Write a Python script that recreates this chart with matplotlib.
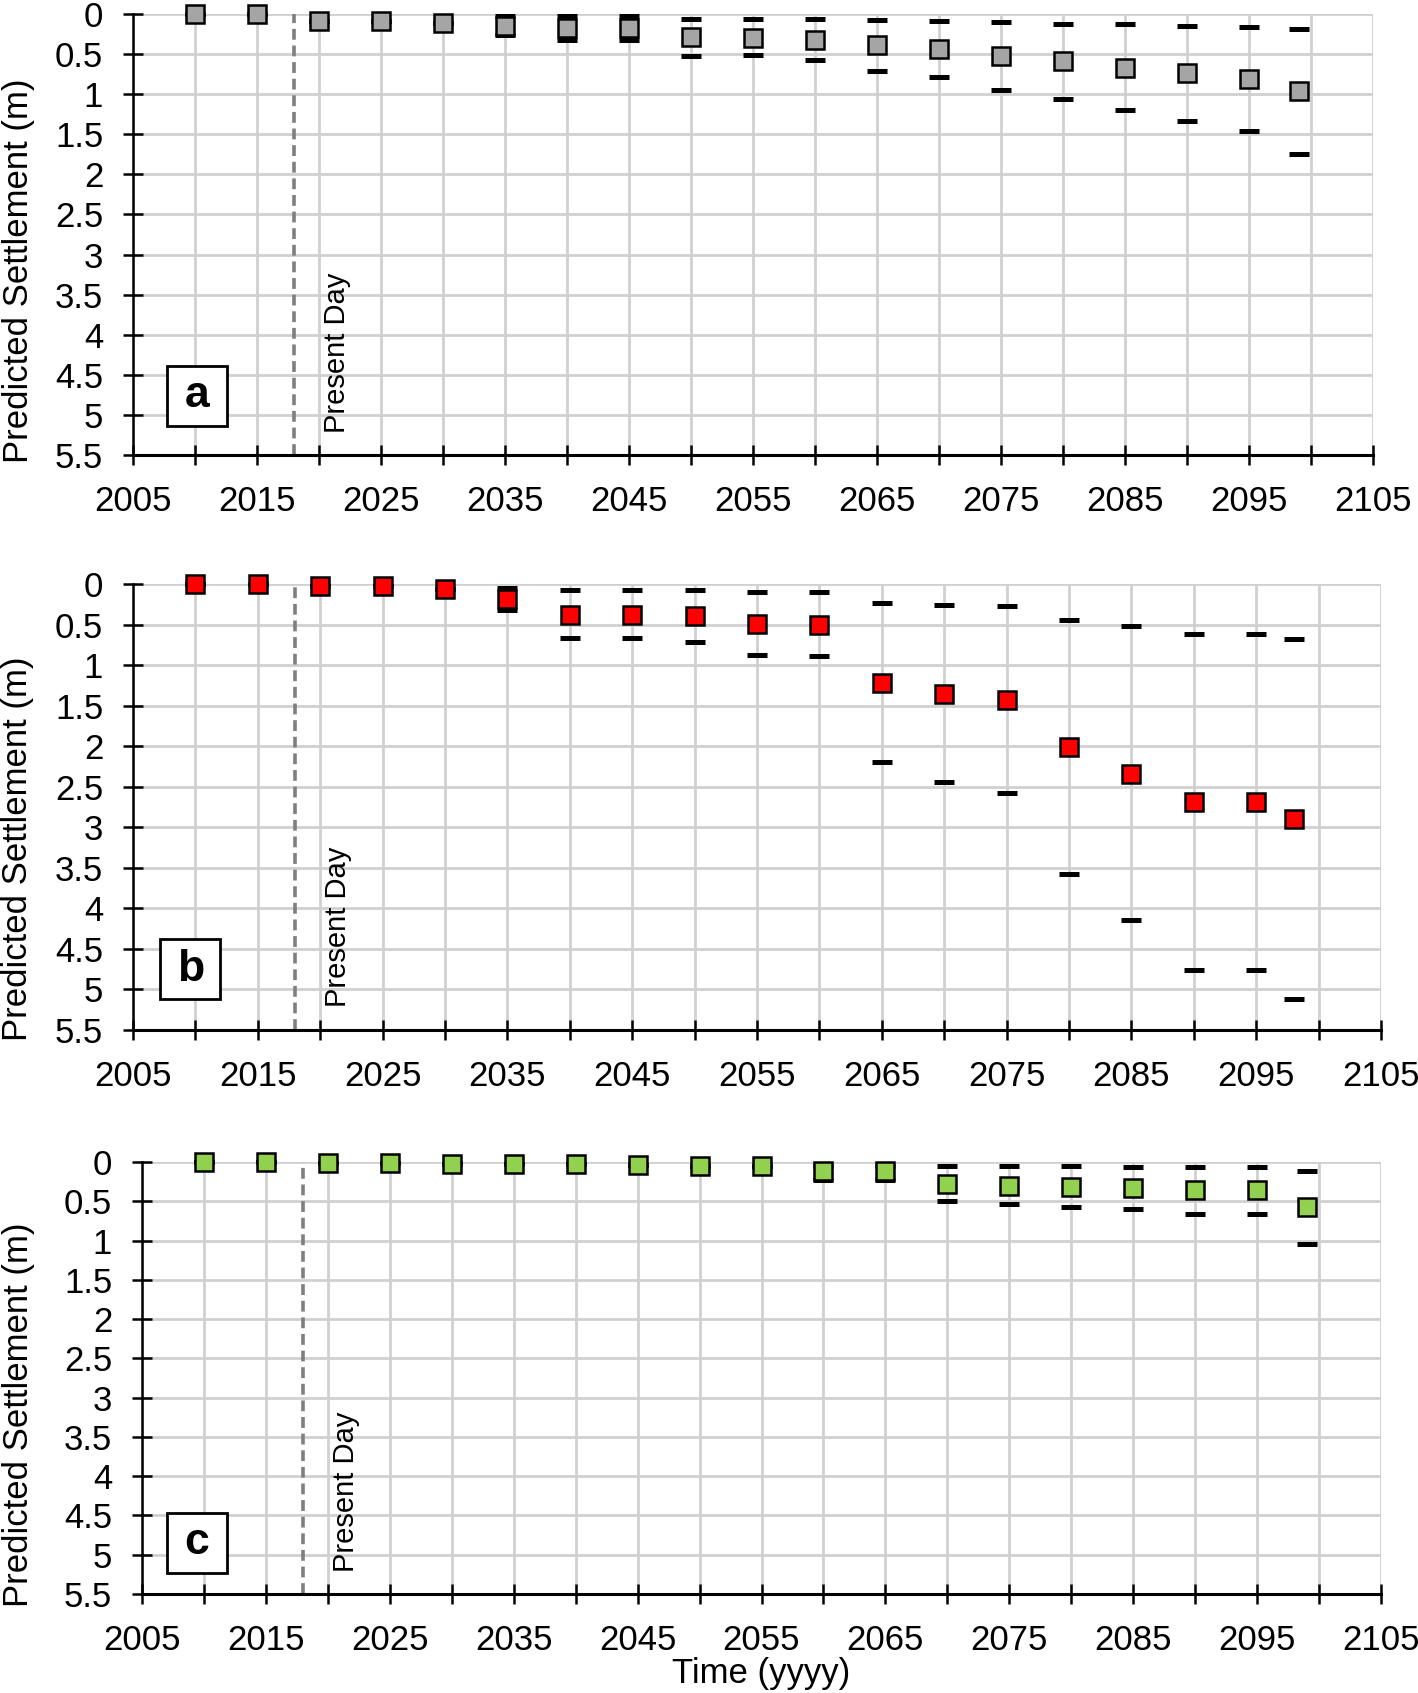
import matplotlib
matplotlib.use("Agg")
import matplotlib.pyplot as plt
import numpy as np

plt.rcParams['font.family'] = ['Liberation Sans', 'DejaVu Sans']

# ---------------- data ----------------
years_a = [2010, 2015, 2020, 2025, 2030, 2035, 2040, 2045, 2050, 2055, 2060, 2065, 2070, 2075, 2080, 2085, 2090, 2095, 2099]
mid_a = [0, 0, 0.09, 0.09, 0.11, 0.15, 0.18, 0.18, 0.29, 0.295, 0.32, 0.39, 0.44, 0.52, 0.59, 0.67, 0.74, 0.81, 0.96]
low_a = [0, 0, 0.09, 0.09, 0.11, 0.03, 0.03, 0.03, 0.06, 0.06, 0.06, 0.08, 0.09, 0.10, 0.12, 0.13, 0.15, 0.16, 0.19]
high_a = [0, 0, 0.09, 0.09, 0.11, 0.26, 0.32, 0.32, 0.52, 0.515, 0.57, 0.71, 0.78, 0.95, 1.06, 1.20, 1.33, 1.46, 1.74]

years_b = [2010, 2015, 2020, 2025, 2030, 2035, 2040, 2045, 2050, 2055, 2060, 2065, 2070, 2075, 2080, 2085, 2090, 2095, 2098]
mid_b = [0, 0, 0.03, 0.03, 0.06, 0.185, 0.38, 0.38, 0.40, 0.49, 0.50, 1.215, 1.355, 1.425, 2.01, 2.34, 2.69, 2.69, 2.90]
low_b = [0, 0, 0.03, 0.03, 0.06, 0.05, 0.08, 0.08, 0.08, 0.10, 0.10, 0.24, 0.26, 0.275, 0.44, 0.52, 0.62, 0.62, 0.68]
high_b = [0, 0, 0.03, 0.03, 0.06, 0.32, 0.67, 0.67, 0.71, 0.88, 0.89, 2.19, 2.44, 2.575, 3.58, 4.14, 4.76, 4.76, 5.12]

years_c = [2010, 2015, 2020, 2025, 2030, 2035, 2040, 2045, 2050, 2055, 2060, 2065, 2070, 2075, 2080, 2085, 2090, 2095, 2099]
mid_c = [0, 0, 0.01, 0.01, 0.03, 0.03, 0.03, 0.04, 0.055, 0.05, 0.11, 0.11, 0.275, 0.30, 0.32, 0.33, 0.36, 0.36, 0.575]
low_c = [0, 0, 0.01, 0.01, 0.03, 0.03, 0.03, 0.04, 0.055, 0.05, 0.05, 0.05, 0.05, 0.05, 0.055, 0.06, 0.07, 0.07, 0.11]
high_c = [0, 0, 0.01, 0.01, 0.03, 0.03, 0.03, 0.04, 0.055, 0.05, 0.235, 0.235, 0.50, 0.535, 0.57, 0.60, 0.66, 0.66, 1.04]

present_day = 2018
x_ticks = [2005, 2010, 2015, 2020, 2025, 2030, 2035, 2040, 2045, 2050, 2055, 2060, 2065, 2070,
           2075, 2080, 2085, 2090, 2095, 2100, 2105]
x_tick_labels = ['2005', '', '2015', '', '2025', '', '2035', '', '2045', '', '2055', '', '2065', '',
                 '2075', '', '2085', '', '2095', '', '2105']
y_ticks = [0, 0.5, 1, 1.5, 2, 2.5, 3, 3.5, 4, 4.5, 5, 5.5]
y_tick_labels = ['0', '0.5', '1', '1.5', '2', '2.5', '3', '3.5', '4', '4.5', '5', '5.5']

panels = [
    dict(label='a', years=years_a, mid=mid_a, low=low_a, high=high_a, color='#A5A5A5',
         rect=[133/1418, 1-455/1693, 1240/1418, 441/1693], lab_xy=(2010.2, 4.76),
         ylab=(-0.079, 0.417)),
    dict(label='b', years=years_b, mid=mid_b, low=low_b, high=high_b, color='#FF0000',
         rect=[133/1418, 1-1030/1693, 1248/1418, 446/1693], lab_xy=(2009.6, 4.75),
         ylab=(-0.079, 0.406)),
    dict(label='c', years=years_c, mid=mid_c, low=low_c, high=high_c, color='#92D050',
         rect=[142/1418, 1-1594/1693, 1239/1418, 432/1693], lab_xy=(2009.4, 4.85),
         ylab=(-0.086, 0.414)),
]

fig = plt.figure(figsize=(14.18, 16.93), dpi=100)

grid_col = '#D0D0D0'
for p in panels:
    ax = fig.add_axes(p['rect'])
    ax.set_xlim(2005, 2105)
    ax.set_ylim(5.5, 0)
    ax.set_xticks(x_ticks)
    ax.set_xticklabels(x_tick_labels)
    ax.set_yticks(y_ticks)
    ax.set_yticklabels(y_tick_labels)
    ax.grid(True, color=grid_col, lw=2.0, zorder=0)
    ax.set_axisbelow(True)
    for s in ['top', 'right']:
        ax.spines[s].set_visible(False)
    ax.spines['left'].set_linewidth(1.8)
    ax.spines['bottom'].set_linewidth(2.2)
    ax.tick_params(axis='x', direction='inout', length=15, width=1.8, labelsize=25, pad=14)
    ax.tick_params(axis='y', direction='inout', length=15, width=1.8, labelsize=25, pad=14)

    # present day line
    ax.axvline(present_day, color='#7F7F7F', lw=2.6, ls=(0, (3, 1.6)), zorder=2)
    ax.text(present_day + 2.3, 5.22, 'Present Day', rotation=90, fontsize=21,
            ha='left', va='bottom', zorder=3)

    # low / high dashes
    ax.plot(p['years'], p['low'], ls='none', marker='_', ms=14, mew=3.6, color='black',
            clip_on=False, zorder=4)
    ax.plot(p['years'], p['high'], ls='none', marker='_', ms=14, mew=3.6, color='black',
            clip_on=False, zorder=4)
    # main points
    ax.plot(p['years'], p['mid'], ls='none', marker='s', ms=12.5, mew=1.8, mfc=p['color'],
            mec='black', clip_on=False, zorder=5)

    # panel label box
    ax.plot([p['lab_xy'][0]], [p['lab_xy'][1]], marker='s', ms=43, mfc='white', mec='black',
            mew=2, ls='none', zorder=6)
    ax.text(p['lab_xy'][0], p['lab_xy'][1], p['label'], fontsize=32, fontweight='bold',
            ha='center', va='center', zorder=7)

    ax.set_ylabel('Predicted Settlement (m)', fontsize=25)
    ax.yaxis.set_label_coords(*p['ylab'])

fig.text(761/1418, 1-1674/1693, 'Time (yyyy)', fontsize=25, ha='center', va='center')

fig.savefig('out.png', dpi=100)
